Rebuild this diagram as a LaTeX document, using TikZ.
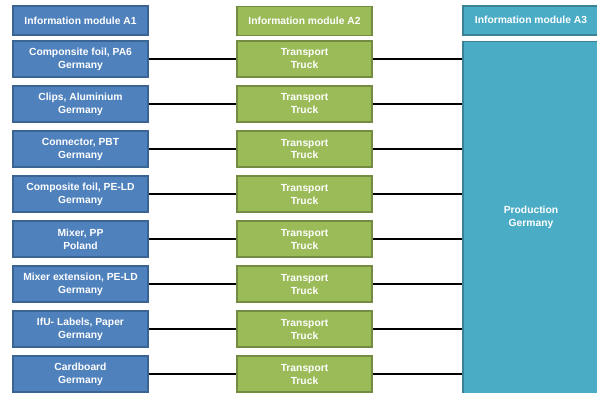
\documentclass[tikz,border=0pt]{standalone}
\usepackage{fontspec}
\setmainfont{Liberation Sans}
\usetikzlibrary{positioning}
\definecolor{modblue}{HTML}{4F81BD}
\definecolor{modblueline}{HTML}{3A6493}
\definecolor{modgreen}{HTML}{9BBB59}
\definecolor{modgreenline}{HTML}{738C42}
\definecolor{modteal}{HTML}{4BACC6}
\definecolor{modtealline}{HTML}{3A8296}

\begin{document}
\begin{tikzpicture}[x=1pt,y=-1pt]
	\tikzset{
		modbox/.style={font=\bfseries\fontsize{10.3}{13}\selectfont, text=white, align=center, inner sep=0pt, line width=1.6pt, minimum width=135pt},
		amod/.style={modbox, fill=modblue, draw=modblueline, minimum height=36pt},
		bmod/.style={modbox, fill=modgreen, draw=modgreenline, minimum height=36pt},
		hmod/.style={minimum height=29pt},
		link/.style={line width=1.6pt, black}
	}
	\useasboundingbox (0,0) rectangle (597,392);
	%%%%% HEADERS %%%%%
	\node[amod, hmod] (headA) at (80.5,20.5) {Information module A1};
	\node[bmod, hmod] (headB) at (304.5,20.8) {Information module A2};
	\node[modbox, hmod, fill=modteal, draw=modtealline, minimum width=136pt] (headC) at (531,20.2) {Information module A3};
	
	%%%%% PRODUCTION %%%%%
	\node[modbox, fill=modteal, draw=modtealline, minimum width=136pt, minimum height=352pt] (prod) at (531,217.5) {Production\\Germany};
	
	%%%%% ROWS %%%%%
	\foreach \mat/\land [count=\i] in {Componsite foil{,} PA6/Germany, Clips{,} Aluminium/Germany, Connector{,} PBT/Germany, Composite foil{,} PE-LD/Germany, Mixer{,} PP/Poland, Mixer extension{,} PE-LD/Germany, IfU- Labels{,} Paper/Germany, Cardboard/Germany}{
		\node[amod] (mat\i) at (80.5,{14+45*\i}) {\mat\\\land};
		\node[bmod] (trans\i) at (304.5,{14+45*\i}) {Transport\\Truck};
		\draw[link] (mat\i) -- (trans\i);
		\draw[link] (trans\i.east) -- (trans\i.east -| prod.west);
	}
\end{tikzpicture}
\end{document}
